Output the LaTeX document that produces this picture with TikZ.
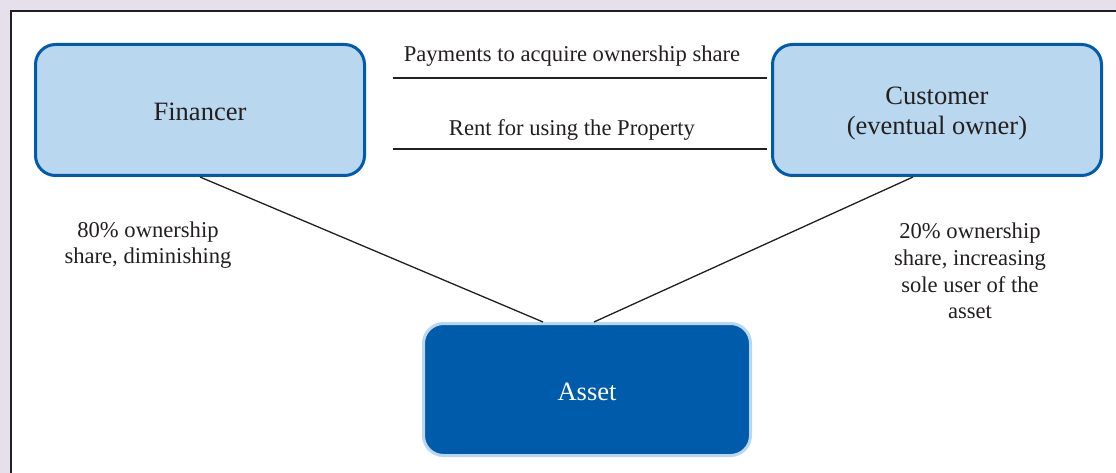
\documentclass[tikz,border=0pt]{standalone}
\usepackage{fontspec}
\setmainfont{Liberation Serif}
\usetikzlibrary{calc}
\definecolor{bgl}{HTML}{E6DFEC}
\definecolor{frm}{HTML}{231F20}
\definecolor{bdark}{HTML}{005BAA}
\definecolor{blight}{HTML}{B9D7EE}
\tikzset{
  lightbox/.style={draw=bdark, fill=blight, line width=3pt, rounded corners=20pt,
    minimum width=329pt, minimum height=131pt, align=center, text=frm,
    font=\fontsize{26.5}{30}\selectfont},
  darkbox/.style={draw=blight, fill=bdark, line width=3pt, rounded corners=20pt,
    minimum width=327pt, minimum height=132pt, align=center, text=white,
    font=\fontsize{26.5}{30}\selectfont},
  lbl/.style={align=center, text=frm, font=\fontsize{22.6}{26.7}\selectfont, inner sep=0pt},
  conn/.style={draw=frm, line width=1.3pt},
  bar/.style={draw=frm, line width=2pt}
}
\begin{document}
\begin{tikzpicture}[x=1pt,y=-1pt]
\useasboundingbox (0,0) rectangle (1116,473);
\fill[bgl] (0,0) rectangle (1116,473);
\draw[frm, line width=1.8pt, fill=white] (11,11) rectangle (1125,485);
\node[lightbox] (fin) at (200,110) {};
\node[lightbox] (cust) at (937,110) {};
\node[darkbox] (asset) at (587,389.5) {};
\node[text=frm, font=\fontsize{26.5}{30}\selectfont] (fint) at (200,112) {Financer};
\node[text=frm, font=\fontsize{26.5}{30}\selectfont, align=center] (custt) at (937,114) {Customer\\(eventual owner)};
\node[text=white, font=\fontsize{26.5}{30}\selectfont] (assett) at (587,392) {Asset};
\coordinate (p1) at (393,78);
\coordinate (p2) at (767,78);
\coordinate (r1) at (393,149);
\coordinate (r2) at (767,149);
\draw[bar] (p1) -- (p2);
\draw[bar] (r1) -- (r2);
\node[lbl] (pay) at (572,56) {Payments to acquire ownership share};
\node[lbl] (rent) at (572,130) {Rent for using the Property};
\coordinate (fa) at ($(asset.north)+(-44,0)$);
\coordinate (ca) at ($(asset.north)+(7,0)$);
\coordinate (cs) at ($(cust.south)+(-24,0)$);
\draw[conn] (fin.south) -- (fa);
\draw[conn] (cs) -- (ca);
\node[lbl] (l80) at (148,245) {80\% ownership\\share, diminishing};
\node[lbl] (l20) at (970,271) {20\% ownership\\share, increasing\\sole user of the\\asset};
\end{tikzpicture}
\end{document}
